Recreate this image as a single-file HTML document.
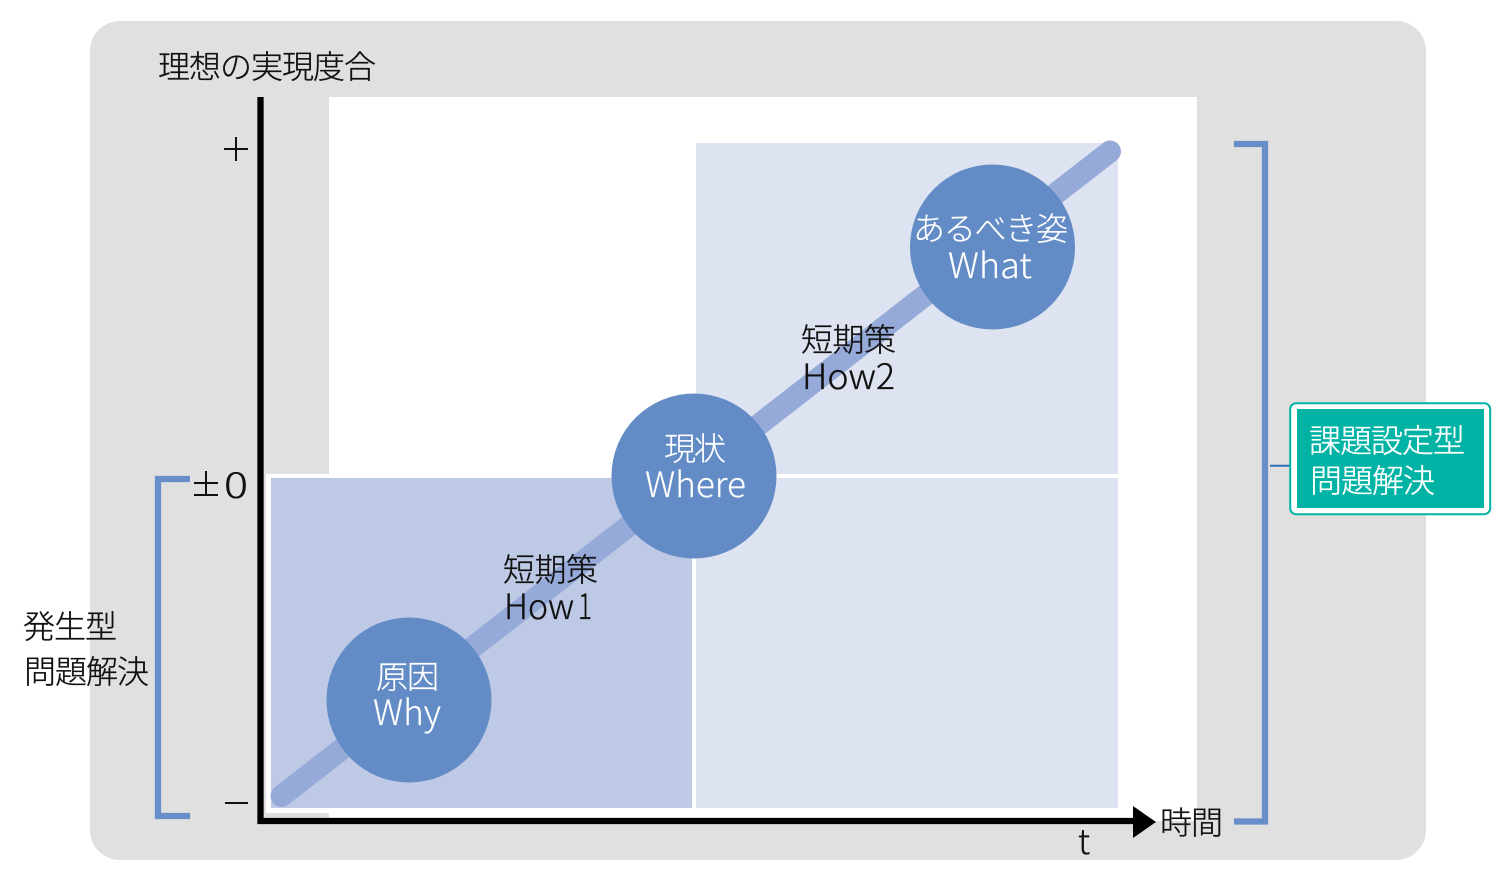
<!DOCTYPE html>
<html lang="ja">
<head>
<meta charset="utf-8">
<style>
html,body{margin:0;padding:0;background:#fff;width:1507px;height:882px;overflow:hidden}
svg{display:block}
text{font-family:"Liberation Sans","Noto Sans CJK JP",sans-serif;font-weight:300;font-size:32px;fill:#111;stroke:#111;stroke-width:.35px}
.w{fill:#fff;stroke:#fff;stroke-width:.2px;font-weight:300}
.b{fill:#fff;stroke:#fff;stroke-width:.35px;font-weight:300}
.l{font-family:"Noto Sans CJK JP","Liberation Sans",sans-serif;font-size:35px;font-weight:300}
</style>
</head>
<body>
<svg width="1507" height="882" viewBox="0 0 1507 882" xmlns="http://www.w3.org/2000/svg">
<rect x="90" y="21" width="1336" height="839" rx="30" ry="30" fill="#e0e0e0"/>
<rect x="329" y="97" width="868" height="724" fill="#fff"/>
<rect x="266" y="474" width="430" height="339" fill="#fff"/>
<rect x="271" y="478" width="421" height="330" fill="#bdc9e5"/>
<rect x="696" y="478" width="422" height="330" fill="#dee3f1"/>
<rect x="696" y="143" width="422" height="331" fill="#dee3f1"/>
<line x1="281.500" y1="796" x2="1110" y2="151.500" stroke="#95aad8" stroke-width="22" stroke-linecap="round"/>
<circle cx="992.500" cy="247" r="82.500" fill="#638cc6"/>
<circle cx="694" cy="476" r="82.500" fill="#638cc6"/>
<circle cx="409" cy="700" r="82.500" fill="#638cc6"/>
<path d="M260.500 97V821H1136" fill="none" stroke="#000" stroke-width="6.300"/>
<polygon points="1133,806 1156,822 1133,838" fill="#000"/>
<path d="M190 479H158V816H190" fill="none" stroke="#678ec8" stroke-width="6.300"/>
<path d="M1234 144H1265V821.500H1234" fill="none" stroke="#678ec8" stroke-width="6.300"/>
<line x1="1270" y1="465.800" x2="1290" y2="465.800" stroke="#2a70b8" stroke-width="2"/>
<rect x="1290.200" y="403.200" width="200" height="111" rx="6" fill="#fff" stroke="#00b3a4" stroke-width="2"/>
<rect x="1297" y="409" width="187" height="99" fill="#00b3a4"/>
<text x="158" y="78" textLength="218">理想の実現度合</text>
<path d="M224 149H248M236 137V161" fill="none" stroke="#111" stroke-width="2"/>
<path d="M194 483H218M206 471V494M194 495H218" fill="none" stroke="#111" stroke-width="2"/>
<text x="224" y="498" class="l" textLength="24" lengthAdjust="spacingAndGlyphs">0</text>
<line x1="225" y1="803" x2="248" y2="803" stroke="#111" stroke-width="2"/>
<text x="23" y="638" textLength="94">発生型</text>
<text x="24" y="683" textLength="125">問題解決</text>
<text x="1160" y="834" textLength="63">時間</text>
<text x="1078" y="854" class="l" textLength="12" lengthAdjust="spacingAndGlyphs">t</text>
<text x="801" y="351" textLength="95">短期策</text>
<text x="802" y="389" class="l" textLength="93" lengthAdjust="spacingAndGlyphs">How2</text>
<text x="503" y="581" textLength="95">短期策</text>
<text x="504" y="619" class="l" textLength="70" lengthAdjust="spacingAndGlyphs">How</text>
<text x="578" y="619" class="l" textLength="14" lengthAdjust="spacingAndGlyphs">1</text>
<text x="913" y="240" class="w" textLength="155">あるべき姿</text>
<text x="948" y="278" class="l w" textLength="84" lengthAdjust="spacingAndGlyphs">What</text>
<text x="664" y="460" class="w" textLength="62">現状</text>
<text x="645" y="497" class="l w" textLength="101" lengthAdjust="spacingAndGlyphs">Where</text>
<text x="376" y="688" class="w" textLength="63">原因</text>
<text x="373" y="725" class="l w" textLength="68" lengthAdjust="spacingAndGlyphs">Why</text>
<text x="1309" y="452" class="b" textLength="156">課題設定型</text>
<text x="1310" y="492" class="b" textLength="125">問題解決</text>
</svg>
</body>
</html>
